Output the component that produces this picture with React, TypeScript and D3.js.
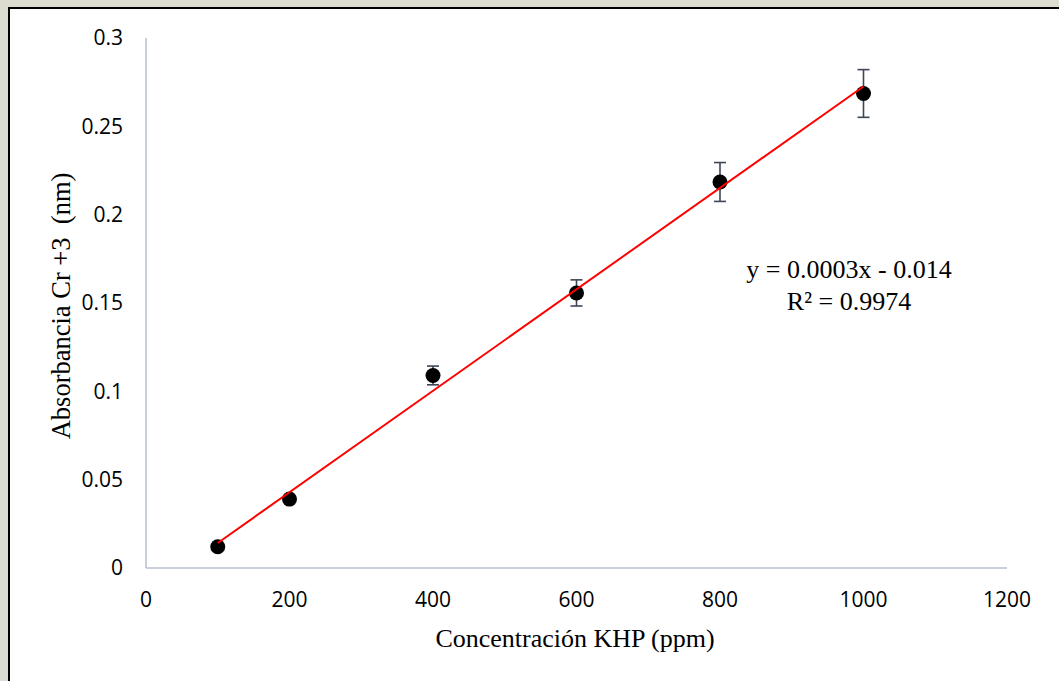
import React from "react";
import * as d3 from "d3";

const concentrations = [100, 200, 400, 600, 800, 1000];
const absorbance = [0.012, 0.039, 0.109, 0.1557, 0.2185, 0.2686];
const errors = [0, 0, 0.0053, 0.0074, 0.011, 0.0135];
const xTicks = [0, 200, 400, 600, 800, 1000, 1200];
const yTicks = [0, 0.05, 0.1, 0.15, 0.2, 0.25, 0.3];
const xTitle = "Concentración KHP (ppm)";
const yTitle = "Absorbancia Cr +3\u00a0 (nm)";
const eqText = "y = 0.0003x - 0.014";
const r2Text = "R² = 0.9974";

export default function App() {
  const W = 1059, H = 681;
  const x = d3.scaleLinear().domain([0, 1200]).range([146, 1007]);
  const y = d3.scaleLinear().domain([0, 0.3]).range([568, 38]);

  const mx = d3.mean(concentrations)!;
  const my = d3.mean(absorbance)!;
  let sxy = 0, sxx = 0;
  concentrations.forEach((c, i) => { sxy += (c - mx) * (absorbance[i] - my); sxx += (c - mx) ** 2; });
  const slope = sxy / sxx;
  const intercept = my - slope * mx;
  const x0 = d3.min(concentrations)!, x1 = d3.max(concentrations)!;
  const trend = d3.line<number>().x(d => x(d)).y(d => y(slope * d + intercept))([x0, x1]) || "";

  const tickFont = "'Open Sans', 'Liberation Sans', sans-serif";
  const serif = "'Liberation Serif', 'Times New Roman', serif";
  const axisColor = "#b7c1d1";
  const errColor = "#3e4656";

  return (
    <svg width={W} height={H} style={{ position: "absolute", left: 0, top: 0, display: "block" }}>
      <rect x={0} y={0} width={W} height={H} fill="#dcdcd0" />
      <rect x={9} y={8} width={W + 20} height={H + 20} fill="#ffffff" stroke="#000" strokeWidth={2} />
      {/* axes */}
      <line x1={x(0)} x2={x(0)} y1={y(0.3)} y2={y(0)} stroke={axisColor} strokeWidth={1.5} />
      <line x1={x(0)} x2={x(1200)} y1={y(0)} y2={y(0)} stroke={axisColor} strokeWidth={1.5} />
      {yTicks.map(t => (
        <text key={"y" + t} x={123} y={y(t)} dy="0.35em" textAnchor="end" fontFamily={tickFont} fontSize={21} fill="#000">{String(t)}</text>
      ))}
      {xTicks.map(t => (
        <text key={"x" + t} x={x(t)} y={607} textAnchor="middle" fontFamily={tickFont} fontSize={21} fill="#000">{String(t)}</text>
      ))}
      <text x={575} y={647} textAnchor="middle" fontFamily={serif} fontSize={26} fill="#000">{xTitle}</text>
      <text transform={`translate(70,306) rotate(-90)`} textAnchor="middle" fontFamily={serif} fontSize={26.5} fill="#000">{yTitle}</text>
      {/* error bars */}
      {concentrations.map((c, i) => errors[i] > 0 ? (
        <g key={"e" + c} stroke={errColor} strokeWidth={1.6}>
          <line x1={x(c)} x2={x(c)} y1={y(absorbance[i] + errors[i])} y2={y(absorbance[i] - errors[i])} />
          <line x1={x(c) - 6} x2={x(c) + 6} y1={y(absorbance[i] + errors[i])} y2={y(absorbance[i] + errors[i])} />
          <line x1={x(c) - 6} x2={x(c) + 6} y1={y(absorbance[i] - errors[i])} y2={y(absorbance[i] - errors[i])} />
        </g>
      ) : null)}
      {/* markers */}
      {concentrations.map((c, i) => (
        <circle key={"p" + c} cx={x(c)} cy={y(absorbance[i])} r={7.5} fill="#000" />
      ))}
      <path d={trend} stroke="#ff0000" strokeWidth={2} fill="none" />
      <text x={849} y={278} textAnchor="middle" fontFamily={serif} fontSize={26} fill="#000">{eqText}</text>
      <text x={849} y={310} textAnchor="middle" fontFamily={serif} fontSize={26} fill="#000">{r2Text}</text>
    </svg>
  );
}
